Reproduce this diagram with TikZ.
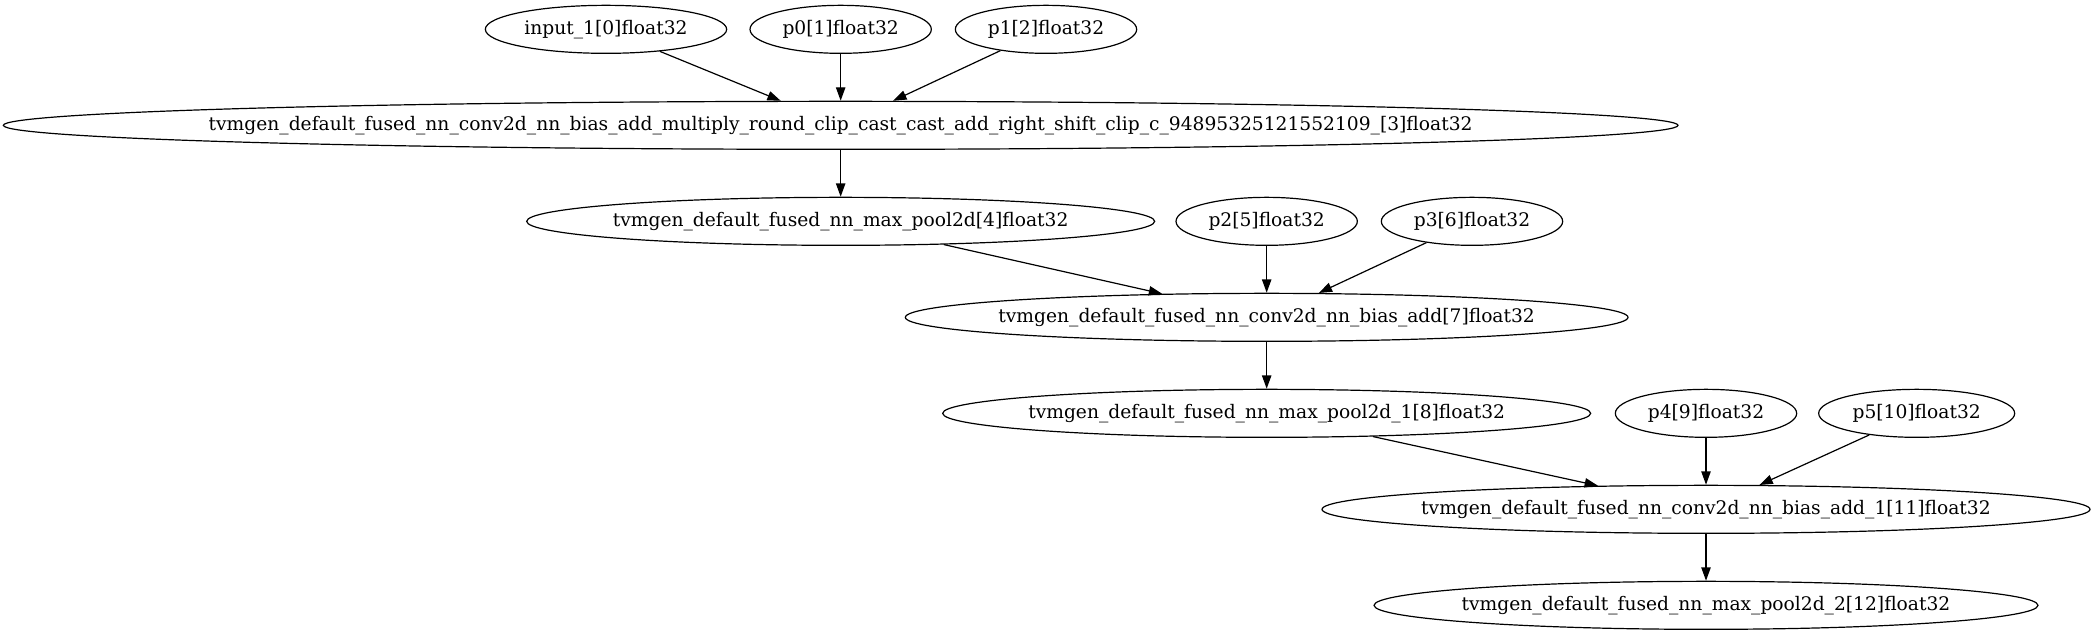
\documentclass[tikz,border=0pt]{standalone}
\usepackage{fontspec}
\setmainfont{DejaVu Serif}
\usetikzlibrary{shapes.geometric,arrows.meta}
\newcommand{\lbl}[1]{\makebox[0pt]{#1}}
\begin{document}
\begin{tikzpicture}[x=1pt,y=1pt]
	\tikzstyle{op} = [ellipse, draw, line width=0.9pt, minimum height=36pt, inner sep=0pt, font=\fontsize{14}{16}\selectfont]
	\tikzstyle{param} = [ellipse, draw, line width=0.9pt, minimum height=36pt, minimum width=136pt, inner sep=0pt, font=\fontsize{14}{16}\selectfont]
	\tikzstyle{edge} = [line width=0.9pt, -{Triangle[length=10pt,width=7pt]}]
\useasboundingbox (0,0) rectangle (1571.25,-476.25);
\def\rankstep{-72}
\def\layerpos{-22}

%inputs and weights
\node[param, minimum width=181pt] (input_1) at (454.5, \layerpos) {\lbl{input\_1[0]float32}};
\foreach \name/\x/\txt in {p_0/630.5/p0[1]float32, p_1/784.5/p1[2]float32}
  	\node[param] (\name) at (\x, \layerpos) {\lbl{\txt}};

%first fused conv
\pgfmathsetmacro{\layerpos}{\layerpos + \rankstep}
\node[op, minimum width=1256pt] (conv_3) at (630.5, \layerpos) {\lbl{tvmgen\_default\_fused\_nn\_conv2d\_nn\_bias\_add\_multiply\_round\_clip\_cast\_cast\_add\_right\_shift\_clip\_c\_94895325121552109\_[3]float32}};
\foreach \from in {input_1, p_0, p_1}
	\draw[edge] (\from) -- (conv_3);

%pool and weights
\pgfmathsetmacro{\layerpos}{\layerpos + \rankstep}
\node[op, minimum width=471pt] (pool_4) at (630.5, \layerpos) {\lbl{tvmgen\_default\_fused\_nn\_max\_pool2d[4]float32}};
\foreach \name/\x/\txt in {p_2/950/p2[5]float32, p_3/1104/p3[6]float32}
  	\node[param] (\name) at (\x, \layerpos) {\lbl{\txt}};
\draw[edge] (conv_3) -- (pool_4);

\pgfmathsetmacro{\layerpos}{\layerpos + \rankstep}
\node[op, minimum width=542pt] (conv_7) at (950, \layerpos) {\lbl{tvmgen\_default\_fused\_nn\_conv2d\_nn\_bias\_add[7]float32}};
\foreach \from in {pool_4, p_2, p_3}
	\draw[edge] (\from) -- (conv_7);

\pgfmathsetmacro{\layerpos}{\layerpos + \rankstep}
\node[op, minimum width=486pt] (pool_8) at (950, \layerpos) {\lbl{tvmgen\_default\_fused\_nn\_max\_pool2d\_1[8]float32}};
\node[param] (p_4) at (1279.5, \layerpos) {\lbl{p4[9]float32}};
\node[param, minimum width=147pt] (p_5) at (1437.5, \layerpos) {\lbl{p5[10]float32}};
\draw[edge] (conv_7) -- (pool_8);

\pgfmathsetmacro{\layerpos}{\layerpos + \rankstep}
\node[op, minimum width=576pt] (conv_11) at (1279.5, \layerpos) {\lbl{tvmgen\_default\_fused\_nn\_conv2d\_nn\_bias\_add\_1[11]float32}};
\foreach \from in {pool_8, p_4, p_5}
	\draw[edge] (\from) -- (conv_11);

%output
\pgfmathsetmacro{\layerpos}{\layerpos + \rankstep}
\node[op, minimum width=498pt] (pool_12) at (1279.5, \layerpos) {\lbl{tvmgen\_default\_fused\_nn\_max\_pool2d\_2[12]float32}};
\draw[edge] (conv_11) -- (pool_12);
\end{tikzpicture}
\end{document}
